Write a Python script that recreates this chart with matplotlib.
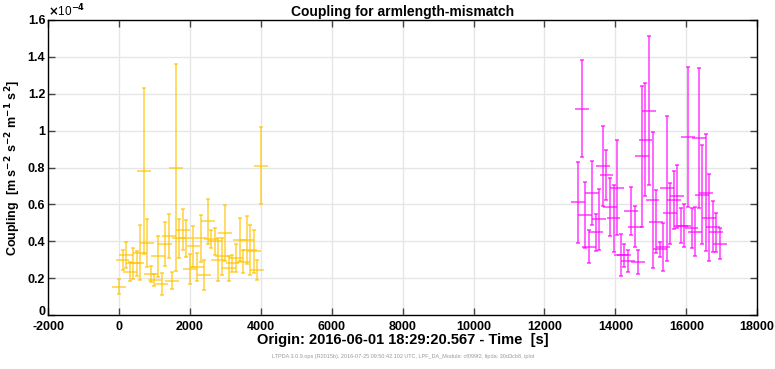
import matplotlib.pyplot as plt
import matplotlib.transforms as mtransforms
from matplotlib.ticker import FuncFormatter

plt.rcParams['font.family'] = ['Liberation Sans', 'DejaVu Sans']
plt.rcParams['axes.unicode_minus'] = False
plt.rcParams['mathtext.default'] = 'bf'

# time of each segment [s], coupling in units of 1e-4
t_yellow = [i * 100 for i in range(41)]
c_yellow = [0.155, 0.30, 0.327, 0.236, 0.281, 0.281, 0.339, 0.783, 0.39, 0.222,
            0.191, 0.318, 0.169, 0.385, 0.43, 0.187, 0.80, 0.417, 0.463, 0.417,
            0.249, 0.372, 0.26, 0.417, 0.218, 0.508, 0.412, 0.40, 0.30, 0.318,
            0.445, 0.254, 0.28, 0.309, 0.408, 0.29, 0.408, 0.354, 0.345, 0.245,
            0.81]
e_yellow = [0.04, 0.054, 0.072, 0.052, 0.085, 0.069, 0.15, 0.45, 0.13, 0.045,
            0.033, 0.11, 0.058, 0.12, 0.12, 0.045, 0.56, 0.105, 0.11, 0.10,
            0.08, 0.11, 0.076, 0.127, 0.083, 0.12, 0.05, 0.072, 0.116, 0.10,
            0.15, 0.067, 0.045, 0.076, 0.116, 0.063, 0.13, 0.136, 0.118, 0.056,
            0.21]

t_magenta = [12950 + i * 100 for i in range(41)]
c_magenta = [0.612, 1.119, 0.543, 0.371, 0.664, 0.449, 0.519, 0.809, 0.76, 0.585,
             0.525, 0.691, 0.324, 0.324, 0.293, 0.565, 0.48, 0.288, 0.86, 0.95,
             1.108, 0.624, 0.507, 0.357, 0.371, 0.688, 0.552, 0.624, 0.643, 0.485,
             0.485, 0.965, 0.471, 0.452, 0.959, 0.652, 0.664, 0.528, 0.48, 0.449,
             0.386]
e_magenta = [0.219, 0.262, 0.178, 0.089, 0.173, 0.099, 0.167, 0.218, 0.136, 0.158,
             0.181, 0.258, 0.113, 0.063, 0.058, 0.131, 0.109, 0.063, 0.384, 0.306,
             0.403, 0.371, 0.17, 0.04, 0.131, 0.392, 0.165, 0.157, 0.17, 0.095,
             0.115, 0.378, 0.109, 0.134, 0.378, 0.269, 0.317, 0.237, 0.136, 0.106,
             0.084]

t_err = 195  # half width of each segment

fig = plt.figure(figsize=(7.75, 3.69), dpi=100)
ax = fig.add_axes([0.062, 0.146, 0.915, 0.8])

for t, c, e, col in [(t_yellow, c_yellow, e_yellow, '#FFC400'),
                     (t_magenta, c_magenta, e_magenta, '#FF00FF')]:
    # vertical bars with small caps, horizontal bars without
    ax.errorbar(t, c, yerr=e, fmt='none', ecolor=col, elinewidth=1.3,
                capsize=1.5, capthick=1.3, alpha=0.65)
    ax.errorbar(t, c, xerr=t_err, fmt='none', ecolor=col, elinewidth=1.3,
                capsize=0, alpha=0.65)

ax.set_xlim(-2000, 18000)
ax.set_ylim(0, 1.6)
ax.set_xticks(range(-2000, 18001, 2000))
ax.set_yticks([0, 0.2, 0.4, 0.6, 0.8, 1.0, 1.2, 1.4, 1.6])
ax.yaxis.set_major_formatter(FuncFormatter(lambda v, p: '%g' % round(v, 1)))
ax.grid(True, color='#E6E6E6', linewidth=1)
ax.set_axisbelow(True)
ax.tick_params(direction='in', top=True, right=True, length=5, width=1,
               labelsize=9, color='#444444', pad=2)
ax.tick_params(axis='x', pad=4)
for lab in ax.get_xticklabels() + ax.get_yticklabels():
    lab.set_fontweight('bold')
for sp in ax.spines.values():
    sp.set_linewidth(1)

# lift the "0" a little so it clears the "-2000" below it
lift = mtransforms.ScaledTranslation(0, 3 / 72, fig.dpi_scale_trans)
zero_lab = ax.get_yticklabels()[0]
zero_lab.set_transform(zero_lab.get_transform() + lift)

ax.set_title('Coupling for armlength-mismatch', fontsize=10, fontweight='bold', pad=3)
ax.set_xlabel('Origin: 2016-06-01 18:29:20.567 - Time  [s]', fontsize=10.5,
              fontweight='bold', labelpad=0)
ax.set_ylabel('Coupling  [m s$^{-2}$ s$^{-2}$ m$^{-1}$ s$^{2}$]',
              fontsize=9, fontweight='bold', labelpad=3)
ax.text(0.0, 1.003, '$\\times$10$^{-4}$', transform=ax.transAxes, fontsize=8.5,
        ha='left', va='bottom')

fig.text(0.52, 0.03, 'LTPDA 3.0.9.ops (R2015b), 2016-07-25 09:50:42.102 UTC, '
         'LPF_DA_Module: cf099f2, ltpda: 30d3cb8, iplot',
         fontsize=4, color='#999999', ha='center')

fig.savefig('out.png', dpi=100)
